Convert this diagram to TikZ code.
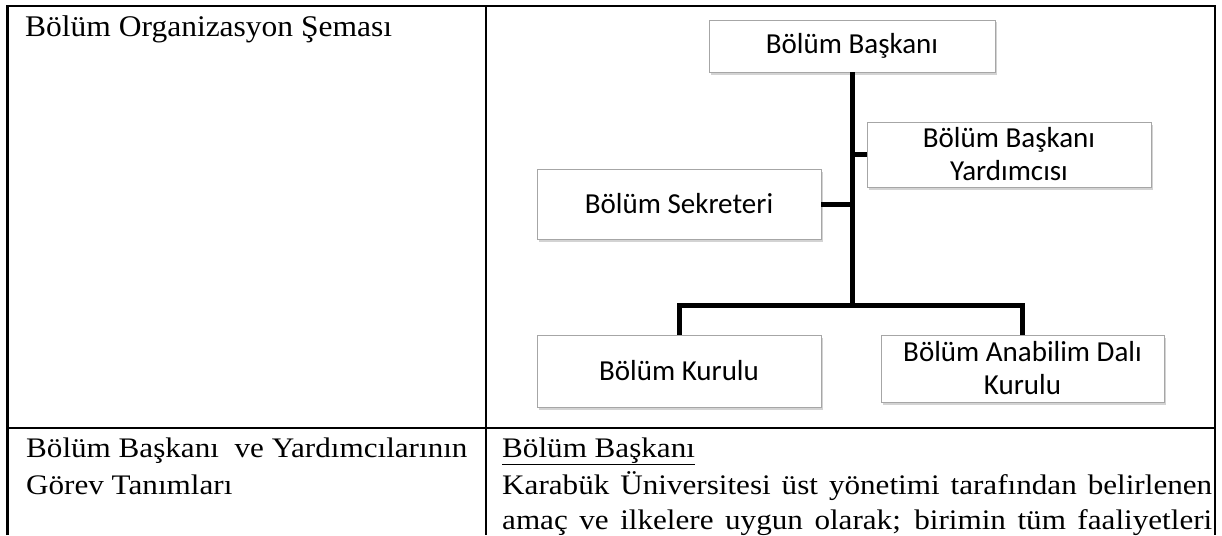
\documentclass[tikz,border=0pt]{standalone}
\usepackage{fontspec}
\setmainfont{Liberation Serif}
\newfontfamily\tnrA[FakeStretch=1.05]{Liberation Serif}
\newfontfamily\tnrB[FakeStretch=1.1]{Liberation Serif}
\newfontfamily\carl{Carlito}
\usetikzlibrary{shadows}
\begin{document}
\begin{tikzpicture}[x=1pt,y=-1pt,
  grid/.style={line width=2.2pt, black},
  orgbox/.style={draw=gray!70, line width=0.8pt, fill=white, inner sep=0pt,
    align=center, font=\carl\fontsize{29}{33}\selectfont,
    drop shadow={shadow xshift=1.5pt, shadow yshift=-2.5pt, opacity=0.35, fill=gray}},
  link/.style={line width=5pt, black},
  cellA/.style={anchor=base west, inner sep=0pt, font=\tnrA\fontsize{30}{34}\selectfont},
  cellB/.style={anchor=base west, inner sep=0pt, font=\tnrB\fontsize{28.3}{32}\selectfont}
]
\useasboundingbox (0,0) rectangle (1222,535);

% table grid
\draw[grid] (7.5,535) -- (7.5,6) -- (1215,6) -- (1215,535);
\draw[grid] (486,6) -- (486,535);
\draw[grid] (7.5,428) -- (1215,428);

% cell texts
\node[cellA] (t1) at (25,37) {Bölüm Organizasyon Şeması};
\node[cellB] (t2) at (26,457) {Bölüm Başkanı~ ve Yardımcılarının};
\node[cellB] (t3) at (26,494) {Görev Tanımları};
\node[cellB] (t4) at (502,457) {\underline{Bölüm Başkanı}};
\node[cellB] (t5) at (502,494) {\makebox[710pt][s]{Karabük Üniversitesi üst yönetimi tarafından belirlenen}};
\node[cellB] (t6) at (502,529) {\makebox[710pt][s]{amaç ve ilkelere uygun olarak; birimin tüm faaliyetleri}};

% org chart
\coordinate (hub) at (852,305);
\node[orgbox, minimum width=286pt, minimum height=52pt] (baskan) at (852,46) {Bölüm Başkanı};
\node[orgbox, minimum width=284pt, minimum height=65pt] (yard) at (1009,154.5) {Bölüm Başkanı\\Yardımcısı};
\node[orgbox, minimum width=284pt, minimum height=70pt] (sekr) at (679,204) {Bölüm Sekreteri};
\node[orgbox, minimum width=284pt, minimum height=72pt] (kurul) at (679,371) {Bölüm Kurulu};
\node[orgbox, minimum width=283pt, minimum height=67pt] (anab) at (1022.5,368.5) {Bölüm Anabilim Dalı\\Kurulu};

\draw[link] (baskan.south) -- (hub);
\draw[link] (yard.west) -- (yard.west -| hub);
\draw[link] (sekr.east) -- (sekr.east -| hub);
\draw[link] (kurul.north) |- (hub) -| (anab.north);
\end{tikzpicture}
\end{document}
